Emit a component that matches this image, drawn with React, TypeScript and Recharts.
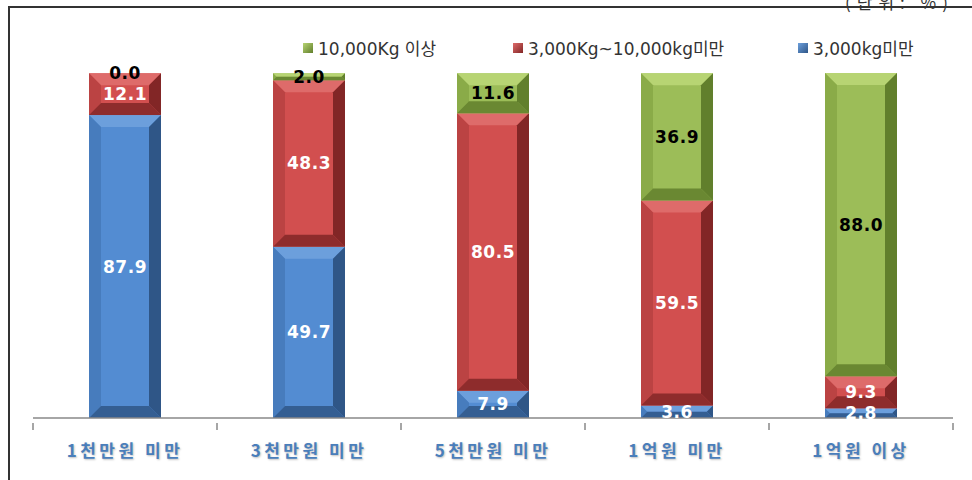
import { BarChart, Bar, XAxis, YAxis, LabelList } from 'recharts';

const categories = ['1천만원 미만', '3천만원 미만', '5천만원 미만', '1억원 미만', '1억원 이상'];
const under3000 = [87.9, 49.7, 7.9, 3.6, 2.8];
const from3000to10000 = [12.1, 48.3, 80.5, 59.5, 9.3];
const over10000 = [0.0, 2.0, 11.6, 36.9, 88.0];

const seriesNames = ['3,000kg미만', '3,000Kg~10,000kg미만', '10,000Kg 이상'];

const chartData = categories.map((name, i) => ({
  name,
  small: under3000[i],
  mid: from3000to10000[i],
  large: over10000[i],
}));

// face / light / side / dark shades for the bevelled bars
const palette = {
  blue: { face: '#538cd2', light: '#6c9fdc', side: '#477cbd', dark: '#2f5687' },
  red: { face: '#d24f4f', light: '#de6b6a', side: '#bb4343', dark: '#822626' },
  green: { face: '#9cbd58', light: '#b7d473', side: '#8aab48', dark: '#617f2c' },
};

type Shade = typeof palette.blue;

function bevelShape(c: Shade) {
  return (props: any) => {
    const { x, y, width: w, height: h } = props;
    if (!h || h <= 0) return <g />;
    const b = Math.min(12, w / 2, h / 2);
    return (
      <g>
        <rect x={x} y={y} width={w} height={h} fill={c.face} />
        <polygon points={`${x},${y} ${x + w},${y} ${x + w - b},${y + b} ${x + b},${y + b}`} fill={c.light} />
        <polygon points={`${x},${y} ${x + b},${y + b} ${x + b},${y + h - b} ${x},${y + h}`} fill={c.side} />
        <polygon points={`${x + w},${y} ${x + w},${y + h} ${x + w - b},${y + h - b} ${x + w - b},${y + b}`} fill={c.dark} />
        <polygon points={`${x},${y + h} ${x + w},${y + h} ${x + w - b},${y + h - b} ${x + b},${y + h - b}`} fill={c.dark} opacity={0.85} />
      </g>
    );
  };
}

function valueLabel(color: string) {
  return (props: any) => {
    const { x, y, width, height, value } = props;
    return (
      <text
        x={x + width / 2}
        y={y + height / 2}
        textAnchor="middle"
        dominantBaseline="central"
        fill={color}
        fontFamily="'DejaVu Sans', Verdana, sans-serif"
        fontWeight="bold"
        fontSize={17}
        letterSpacing={0.5}
      >
        {Number(value).toFixed(1)}
      </text>
    );
  };
}

function CategoryTick(props: any) {
  const { x, y, payload, index, visibleTicksCount } = props;
  const half = payload.offset || 0;
  return (
    <g>
      <line x1={x - half} y1={y - 1} x2={x - half} y2={y + 6} stroke="#888" strokeWidth={1.5} />
      {index === visibleTicksCount - 1 && (
        <line x1={x + half} y1={y - 1} x2={x + half} y2={y + 6} stroke="#888" strokeWidth={1.5} />
      )}
      <text
        x={x}
        y={y + 33}
        textAnchor="middle"
        fill="#4a7ebb"
        fontFamily="'Noto Sans CJK KR', sans-serif"
        fontWeight="bold"
        fontSize={17}
        letterSpacing={3.5}
        style={{ textShadow: '1px 1px 2px rgba(0,0,0,0.25)' }}
      >
        {payload.value}
      </text>
    </g>
  );
}

const legendItems = [
  { label: seriesNames[2], c: palette.green, w: 210 },
  { label: seriesNames[1], c: palette.red, w: 285 },
  { label: seriesNames[0], c: palette.blue, w: 160 },
];

function TopLegend() {
  return (
    <div
      style={{
        position: 'absolute',
        left: 303,
        top: 35,
        display: 'flex',
        fontFamily: "'DejaVu Sans', 'Noto Sans CJK KR', sans-serif",
        fontSize: 17,
        color: '#333',
      }}
    >
      {legendItems.map((it) => (
        <div key={it.label} style={{ width: it.w, display: 'flex', alignItems: 'center' }}>
          <span
            style={{
              display: 'inline-block',
              width: 10,
              height: 10,
              marginRight: 5,
              background: `linear-gradient(135deg, ${it.c.light}, ${it.c.dark})`,
            }}
          />
          <span>{it.label}</span>
        </div>
      ))}
    </div>
  );
}

export default function App() {
  return (
    <div style={{ position: 'fixed', left: 0, top: 0, width: 972, height: 480, overflow: 'hidden', background: '#fff' }}>
      <div
        style={{
          position: 'absolute',
          left: 8,
          top: 6,
          width: 1000,
          height: 600,
          border: '2px solid #333',
          boxSizing: 'border-box',
        }}
      />
      <div
        style={{
          position: 'absolute',
          left: 845,
          top: -11,
          fontFamily: "'Noto Sans CJK KR', sans-serif",
          fontSize: 17,
          color: '#333',
          letterSpacing: 6,
        }}
      >
        (단위: %)
      </div>
      <div style={{ position: 'absolute', left: 0, top: 0 }}>
        <BarChart
          width={972}
          height={480}
          data={chartData}
          barSize={72}
          margin={{ top: 73, right: 19, bottom: 22, left: 33 }}
        >
          <XAxis
            dataKey="name"
            height={40}
            axisLine={{ stroke: '#888', strokeWidth: 1.5 }}
            tickLine={false}
            tickMargin={0}
            tick={<CategoryTick />}
            interval={0}
          />
          <YAxis hide domain={[0, 100]} />
          <Bar dataKey="small" stackId="a" name={seriesNames[0]} shape={bevelShape(palette.blue)} isAnimationActive={false}>
            <LabelList dataKey="small" content={valueLabel('#ffffff')} />
          </Bar>
          <Bar dataKey="mid" stackId="a" name={seriesNames[1]} shape={bevelShape(palette.red)} isAnimationActive={false}>
            <LabelList dataKey="mid" content={valueLabel('#ffffff')} />
          </Bar>
          <Bar dataKey="large" stackId="a" name={seriesNames[2]} shape={bevelShape(palette.green)} isAnimationActive={false}>
            <LabelList dataKey="large" content={valueLabel('#000000')} />
          </Bar>
        </BarChart>
      </div>
      <TopLegend />
    </div>
  );
}
